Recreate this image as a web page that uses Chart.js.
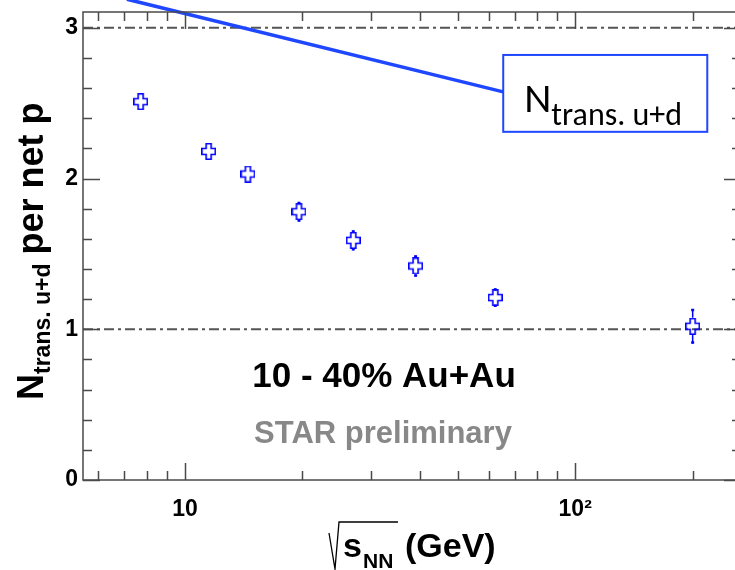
<!DOCTYPE html>
<html><head><meta charset="utf-8">
<script src="https://cdn.jsdelivr.net/npm/chart.js@4/dist/chart.umd.min.js"></script>
<style>
html,body{margin:0;padding:0;background:#fff;overflow:hidden;width:735px;height:570px}
#wrap{position:relative;width:760px;height:570px}
</style></head>
<body><div id="wrap"><canvas id="c" width="760" height="570"></canvas></div>
<script>
// ---- data ----
const energies = [7.7, 11.5, 14.5, 19.6, 27, 39, 62.4, 200];
const ratio = [2.51, 2.18, 2.03, 1.78, 1.59, 1.42, 1.21, 1.02];
const ratioErr = [0.035, 0.04, 0.045, 0.065, 0.066, 0.07, 0.06, 0.115];
const referenceLevels = [1, 3];
const yTickValues = [0, 1, 2, 3];
const yTickLabels = ['0', '1', '2', '3'];
const xTickValues = [10, 100];
const xTickLabels = ['10', '10²'];
const xMinorValues = [6, 7, 8, 9, 20, 30, 40, 50, 60, 70, 80, 90, 200];
const xRange = [5.48, 266];
const yRange = [0, 3.105];
const pointerLine = [{x: 7.1, y: 3.19}, {x: 65.4, y: 2.575}];
const labelBox = {x0: 65.4, x1: 218, y0: 2.31, y1: 2.82};

// ---- marker (open cross) ----
function makeMarker() {
  const w = 15, h = 17;
  const c = document.createElement('canvas'); c.width = w; c.height = h;
  const g = c.getContext('2d');
  g.strokeStyle = '#0000ff'; g.lineWidth = 1.6;
  const a = 5, b = 10, ay = 5.5, by = 11.5, e = 0.8;
  g.beginPath();
  g.moveTo(a, e); g.lineTo(b, e); g.lineTo(b, ay); g.lineTo(w - e, ay); g.lineTo(w - e, by);
  g.lineTo(b, by); g.lineTo(b, h - e); g.lineTo(a, h - e); g.lineTo(a, by); g.lineTo(e, by);
  g.lineTo(e, ay); g.lineTo(a, ay); g.closePath(); g.stroke();
  return c;
}
const marker = makeMarker();

const points = energies.map((x, i) => ({x, y: ratio[i]}));
const refDatasets = referenceLevels.map(v => ({
  type: 'line', data: [{x: xRange[0], y: v}, {x: xRange[1], y: v}],
  borderColor: '#555', borderWidth: 2, borderDash: [10, 4, 3, 4],
  pointRadius: 0, fill: false, order: 3
}));

const decor = {
  id: 'decor',
  beforeDatasetsDraw(chart) {
    const {ctx, scales: {x, y}} = chart;
    ctx.save();
    ctx.strokeStyle = '#0000ff'; ctx.lineWidth = 1.5;
    energies.forEach((e, i) => {
      const px = x.getPixelForValue(e);
      const py = y.getPixelForValue(ratio[i]);
      const top = y.getPixelForValue(ratio[i] + ratioErr[i]);
      const bot = y.getPixelForValue(ratio[i] - ratioErr[i]);
      ctx.beginPath();
      if (py - top > 8.5) { ctx.moveTo(px, py - 8.5); ctx.lineTo(px, top); }
      if (bot - py > 8.5) { ctx.moveTo(px, py + 8.5); ctx.lineTo(px, bot); }
      ctx.stroke();
      ctx.lineWidth = 2.5;
      ctx.beginPath();
      if (py - top > 8.5) { ctx.moveTo(px - 1.5, top + 1); ctx.lineTo(px + 1.5, top + 1); }
      if (bot - py > 8.5) { ctx.moveTo(px - 1.5, bot - 1); ctx.lineTo(px + 1.5, bot - 1); }
      ctx.stroke();
      ctx.lineWidth = 1.5;
    });
    ctx.restore();
  },
  afterDraw(chart) {
    const {ctx, chartArea: ca, scales: {x, y}} = chart;
    ctx.save();
    ctx.strokeStyle = '#4a4a4a'; ctx.lineWidth = 1.5;
    ctx.strokeRect(ca.left, ca.top, ca.right - ca.left, ca.bottom - ca.top);
    ctx.beginPath();
    for (let v = 0; v <= 3.0001; v += 0.2) {
      const py = Math.round(y.getPixelForValue(v)) + 0.5;
      const major = Math.abs(v - Math.round(v)) < 1e-6;
      const L = major ? 17 : 9;
      ctx.moveTo(ca.left, py); ctx.lineTo(ca.left + L, py);
      ctx.moveTo(ca.right, py); ctx.lineTo(ca.right - L, py);
    }
    xTickValues.concat(xMinorValues).forEach(v => {
      const px = Math.round(x.getPixelForValue(v)) + 0.5;
      const L = xTickValues.includes(v) ? 17 : 9;
      ctx.moveTo(px, ca.bottom); ctx.lineTo(px, ca.bottom - L);
      ctx.moveTo(px, ca.top); ctx.lineTo(px, ca.top + L);
    });
    ctx.stroke();

    // label box
    const bx0 = x.getPixelForValue(labelBox.x0), bx1 = x.getPixelForValue(labelBox.x1);
    const by0 = y.getPixelForValue(labelBox.y1), by1 = y.getPixelForValue(labelBox.y0);
    ctx.fillStyle = '#fff';
    ctx.fillRect(bx0, by0, bx1 - bx0, by1 - by0);
    ctx.strokeStyle = '#1f47ff'; ctx.lineWidth = 2;
    ctx.strokeRect(bx0, by0, bx1 - bx0, by1 - by0);
    ctx.fillStyle = '#000'; ctx.textBaseline = 'alphabetic'; ctx.textAlign = 'left';
    ctx.font = '42px Carlito, Lato, sans-serif';
    ctx.fillText('N', bx0 + 21, by0 + 57);
    const nW = ctx.measureText('N').width;
    ctx.font = '32px Carlito, Lato, sans-serif';
    ctx.fillText('trans. u+d', bx0 + 21 + nW, by0 + 70);

    // annotations in plot
    ctx.textAlign = 'center';
    ctx.fillStyle = '#000';
    ctx.font = 'bold 35px "Liberation Sans", Arial, sans-serif';
    ctx.fillText('10 - 40% Au+Au', 384, 387);
    ctx.fillStyle = '#888';
    ctx.font = 'bold 31px "Liberation Sans", Arial, sans-serif';
    ctx.fillText('STAR preliminary', 383, 443);

    // x title
    ctx.fillStyle = '#000'; ctx.textAlign = 'left';
    ctx.strokeStyle = '#000'; ctx.lineWidth = 1.3;
    ctx.beginPath();
    ctx.moveTo(329, 533); ctx.lineTo(335, 569); ctx.lineTo(339, 522); ctx.lineTo(398, 522);
    ctx.stroke();
    ctx.font = 'bold 34px "Liberation Sans", Arial, sans-serif';
    ctx.fillText('s', 343, 557);
    ctx.font = 'bold 21px "Liberation Sans", Arial, sans-serif';
    ctx.fillText('NN', 363, 568);
    ctx.font = 'bold 34px "Liberation Sans", Arial, sans-serif';
    ctx.fillText('(GeV)', 405, 557);

    // y title
    ctx.translate(43, 400);
    ctx.rotate(-Math.PI / 2);
    ctx.font = 'bold 36px "Liberation Sans", Arial, sans-serif';
    ctx.fillText('N', 0, 0);
    let cx = ctx.measureText('N').width;
    ctx.font = 'bold 23px "Liberation Sans", Arial, sans-serif';
    ctx.fillText('trans. u+d', cx, 7);
    cx += ctx.measureText('trans. u+d').width + 9;
    ctx.font = 'bold 36px "Liberation Sans", Arial, sans-serif';
    ctx.fillText('per net p', cx, 0);
    ctx.restore();
  }
};

new Chart(document.getElementById('c'), {
  type: 'scatter',
  data: {
    datasets: [
      {
        type: 'line', data: pointerLine, borderColor: '#1f47ff', borderWidth: 3.5,
        pointRadius: 0, fill: false, clip: false, order: 1
      },
      {
        data: points, pointStyle: marker, pointRadius: 8, pointHoverRadius: 8,
        backgroundColor: '#0000ff', borderColor: '#0000ff', order: 2
      },
      ...refDatasets
    ]
  },
  options: {
    responsive: false, animation: false,
    layout: {padding: {top: 12, right: 19, left: 0, bottom: 0}},
    plugins: {legend: {display: false}, tooltip: {enabled: false}},
    scales: {
      x: {
        type: 'logarithmic', min: xRange[0], max: xRange[1],
        grid: {display: false, drawTicks: false}, border: {display: false},
        afterBuildTicks: s => { s.ticks = xTickValues.map(v => ({value: v})); },
        afterFit: s => { s.height = 90; s.paddingLeft = 0; s.paddingRight = 0; },
        ticks: {
          autoSkip: false, maxRotation: 0, padding: 16, color: '#000',
          font: {family: '"Liberation Sans", Arial, sans-serif', weight: 'bold', size: 23},
          callback: v => { const i = xTickValues.indexOf(v); return i >= 0 ? xTickLabels[i] : ''; }
        }
      },
      y: {
        min: yRange[0], max: yRange[1],
        grid: {display: false, drawTicks: false}, border: {display: false},
        afterBuildTicks: s => { s.ticks = yTickValues.map(v => ({value: v})); },
        afterFit: s => { s.width = 83; s.paddingTop = 0; s.paddingBottom = 0; },
        ticks: {
          padding: 5, color: '#000',
          font: {family: '"Liberation Sans", Arial, sans-serif', weight: 'bold', size: 23},
          callback: v => { const i = yTickValues.indexOf(v); return i >= 0 ? yTickLabels[i] : ''; }
        }
      }
    }
  },
  plugins: [decor]
});
</script>
</body></html>
